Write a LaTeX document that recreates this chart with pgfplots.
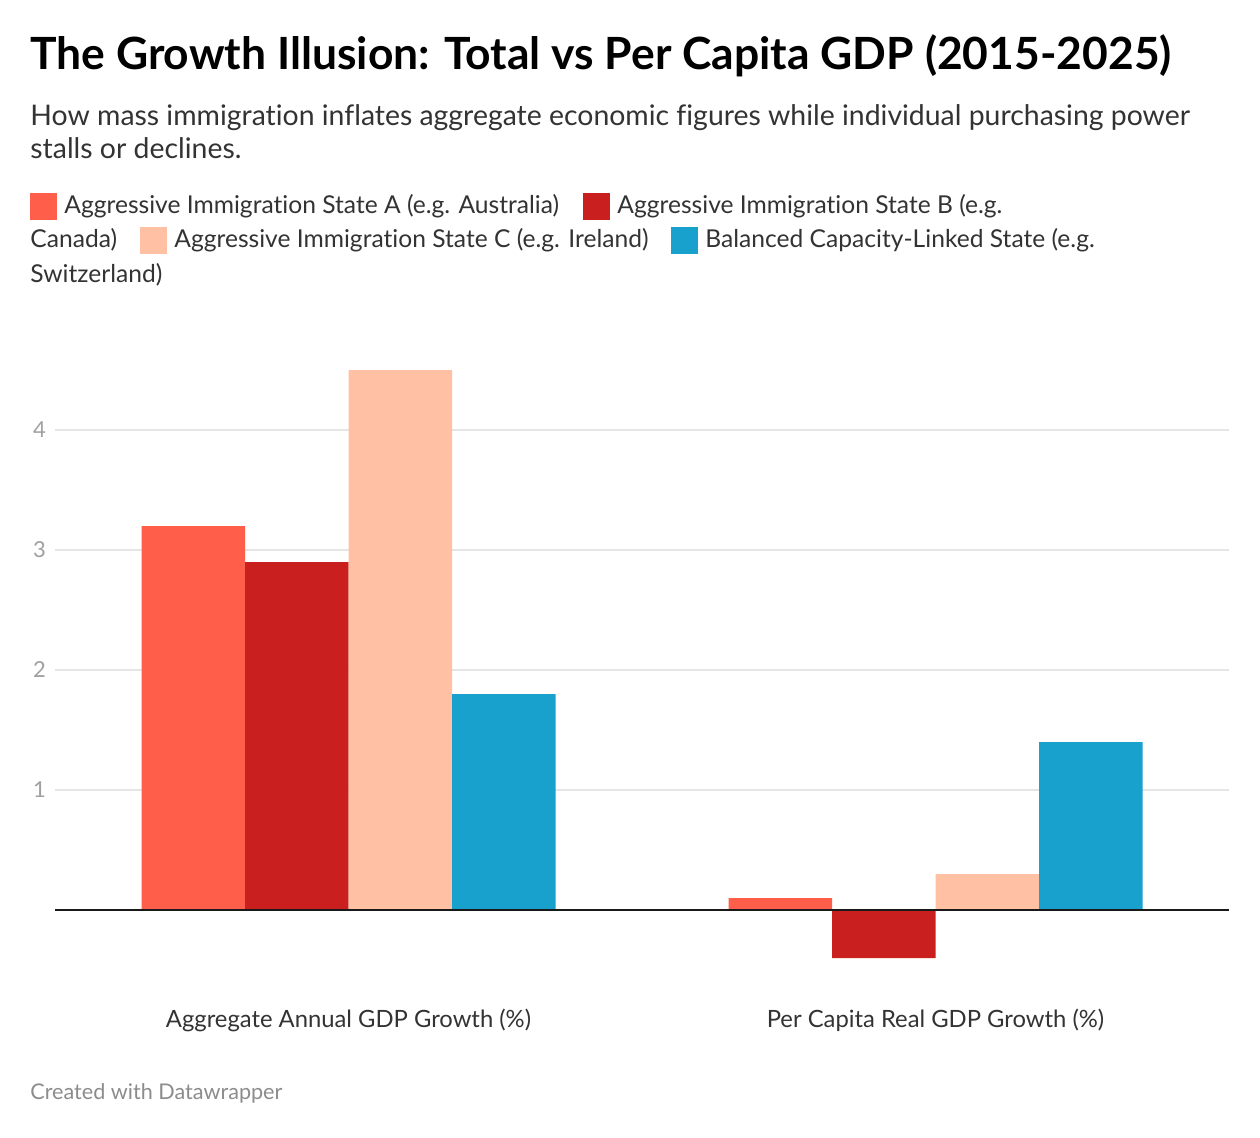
\documentclass[border=0pt]{standalone}
\usepackage{pgfplots}
\pgfplotsset{compat=1.18}
\usepackage{fontspec}
\setmainfont{Lato}[Ligatures=NoCommon]
\definecolor{cA}{HTML}{FF5E4B}
\definecolor{cB}{HTML}{C91F1F}
\definecolor{cC}{HTML}{FFC0A3}
\definecolor{cD}{HTML}{18A1CD}
\definecolor{gridc}{HTML}{E5E5E5}
\definecolor{ticklab}{HTML}{A0A0A0}
\definecolor{txt}{HTML}{333333}
\definecolor{foot}{HTML}{8C8C8C}
\begin{document}
\begin{tikzpicture}[x=0.5pt,y=-0.5pt]
\fill[white] (0,0) rectangle (1260,1138);
\path[use as bounding box] (0,0) rectangle (1260,1138);
% title and subtitle
\node[anchor=base west, inner sep=0, text=black] at (30,70) {\fontsize{22.2}{26}\selectfont\bfseries The Growth Illusion: Total vs Per Capita GDP (2015-2025)};
\node[anchor=base west, inner sep=0, text=txt] at (30,126) {\fontsize{14.2}{17}\selectfont How mass immigration inflates aggregate economic figures while individual purchasing power};
\node[anchor=base west, inner sep=0, text=txt] at (30,159) {\fontsize{14.2}{17}\selectfont stalls or declines.};
% legend
\newcommand{\legtxt}[3]{\node[anchor=base west, inner sep=0, text=txt] at (#1,#2) {\fontsize{12.3}{15}\selectfont #3};}
\fill[cA] (30,193) rectangle (57,220);
\legtxt{64}{214}{Aggressive Immigration State A (e.g. Australia)}
\fill[cB] (583,193) rectangle (610,220);
\legtxt{617}{214}{Aggressive Immigration State B (e.g.}
\legtxt{30}{248}{Canada)}
\fill[cC] (140,227) rectangle (167,254);
\legtxt{174}{248}{Aggressive Immigration State C (e.g. Ireland)}
\fill[cD] (671,227) rectangle (698,254);
\legtxt{705}{248}{Balanced Capacity-Linked State (e.g.}
\legtxt{30}{283}{Switzerland)}
% footer
\node[anchor=base west, inner sep=0, text=foot] at (30,1100) {\fontsize{10.8}{13}\selectfont Created with Datawrapper};
\begin{axis}[
  at={(27.5pt,-500pt)}, anchor=south west,
  scale only axis, width=587pt, height=324pt,
  xmin=-0.5, xmax=1.5, ymin=-0.75, ymax=4.65,
  axis line style={draw=none},
  major tick length=0pt,
  ytick={1,2,3,4},
  ymajorgrids,
  grid style={gridc, line width=0.7pt},
  xtick={0,1},
  xticklabels={Aggregate Annual GDP Growth (\%), Per Capita Real GDP Growth (\%)},
  xticklabel style={font=\fontsize{11.9}{14}\selectfont, text=txt, yshift=-1pt},
  yticklabel style={font=\fontsize{11}{13}\selectfont, text=ticklab, xshift=-1pt},
  /pgf/number format/assume math mode=true,
  ybar=0pt,
  bar width=51.75pt,
  clip=false,
]
\addplot[fill=cA, draw=none] coordinates {(0,3.2) (1,0.1)};
\addplot[fill=cB, draw=none] coordinates {(0,2.9) (1,-0.4)};
\addplot[fill=cC, draw=none] coordinates {(0,4.5) (1,0.3)};
\addplot[fill=cD, draw=none] coordinates {(0,1.8) (1,1.4)};
\draw[black!90, line width=1pt] (axis cs:-0.5,0) -- (axis cs:1.5,0);
\end{axis}
\end{tikzpicture}
\end{document}
